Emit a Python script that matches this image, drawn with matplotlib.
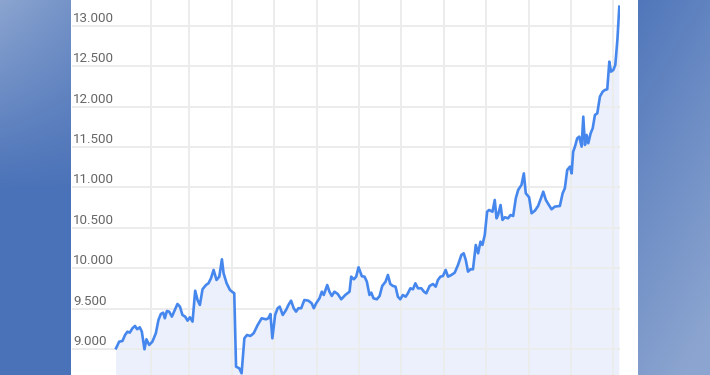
import numpy as np
import pandas as pd
import matplotlib
matplotlib.use("Agg")
import matplotlib.pyplot as plt
import matplotlib.transforms as mtransforms

plt.rcParams["font.family"] = ["Roboto", "DejaVu Sans"]

# index level (days counted from the first point)
start = pd.Timestamp("2023-01-07")
days = [
    0.0, 2.2, 4.6, 6.5, 8.2, 9.9, 11.8, 13.7, 15.2, 17.1, 18.6, 20.5, 21.9, 23.9,
    26.2, 28.7, 30.6, 32.3, 34.0, 35.2, 36.7, 38.3, 40.3, 42.2, 44.3, 46.1, 47.9,
    49.9, 51.6, 53.3, 55.2, 57.1, 58.8, 60.5, 62.4, 64.9, 66.7, 68.5, 70.4, 72.5,
    74.5, 76.4, 77.6, 79.8, 82.2, 84.6, 85.3, 86.6, 88.9, 90.6, 92.6, 94.5, 96.9,
    99.3, 102.2, 105.1, 108.2, 109.9, 111.4, 112.8, 114.8, 116.6, 118.1, 120.3,
    122.7, 124.4, 126.3, 128.2, 129.9, 131.6, 133.6, 135.9, 138.8, 141.2, 142.7,
    144.4, 146.8, 148.5, 149.9, 152.4, 154.0, 155.7, 157.6, 160.0, 162.5, 165.4,
    168.5, 169.7, 171.6, 173.3, 175.0, 177.4, 179.3, 181.0, 182.9, 184.2, 185.8,
    188.2, 190.2, 192.1, 194.5, 196.2, 197.9, 199.8, 201.7, 203.4, 205.1, 207.0,
    209.0, 210.6, 212.4, 214.3, 216.0, 217.9, 220.3, 222.2, 223.9, 226.3, 228.7,
    230.7, 232.3, 234.1, 235.9, 237.9, 239.6, 242.0, 244.4, 246.8, 249.2, 250.9,
    252.4, 254.0, 255.8, 257.6, 259.6, 261.3, 263.0, 264.4, 266.1, 267.8, 269.2,
    271.7, 273.3, 274.6, 275.7, 277.5, 278.9, 280.6, 282.9, 284.7, 286.6, 288.5,
    290.2, 292.6, 294.3, 295.7, 298.1, 299.9, 302.3, 304.6, 307.1, 308.3, 310.2,
    311.9, 314.3, 316.7, 320.3, 322.3, 323.9, 325.6, 327.6, 328.8, 329.9, 331.2,
    332.8, 334.3, 336.0, 337.2, 338.4, 339.6, 340.8, 342.5, 344.0, 345.6, 347.3,
    349.2, 351.2, 352.9, 354.5, 356.0, 357.2, 358.9, 360.3, 361.8, 363.2,
]
values = [
    9009, 9090, 9099, 9173, 9214, 9202, 9256, 9285, 9244, 9268, 9214, 8996, 9120, 9050,
    9090, 9194, 9359, 9433, 9449, 9380, 9470, 9462, 9400, 9474, 9557, 9524, 9421,
    9400, 9350, 9392, 9338, 9721, 9606, 9545, 9739, 9792, 9813, 9875, 9978, 9854,
    9895, 10110, 9937, 9813, 9730, 9697, 9690, 8781, 8761, 8699, 9132, 9173, 9161,
    9194, 9297, 9380, 9367, 9380, 9433, 9132, 9421, 9504, 9524, 9421,
    9483, 9545, 9598, 9504, 9462, 9504, 9504, 9606, 9598, 9565, 9504,
    9565, 9627, 9709, 9668, 9792, 9709, 9656, 9709, 9681, 9615, 9668,
    9709, 9895, 9862, 9895, 10011, 9900, 9895, 9833, 9668, 9697, 9627,
    9615, 9656, 9780, 9833, 9916, 9804, 9780, 9771, 9647, 9615, 9668,
    9647, 9689, 9751, 9739, 9813, 9751, 9751, 9709, 9689, 9780, 9804,
    9771, 9854, 9895, 9903, 9978, 9895, 9916, 9944, 10040, 10163, 10184,
    10101, 9957, 9986, 9986, 10287, 10184, 10328, 10287, 10411, 10699, 10720,
    10699, 10844, 10617, 10658, 10782, 10597, 10630, 10617, 10658, 10646, 10865,
    10968, 11030, 11173, 10927, 10877, 10679, 10712, 10770, 10886, 10947, 10844,
    10795, 10729, 10762, 10770, 10927, 10989, 11215, 11257, 11173, 11442, 11504,
    11607, 11628, 11504, 11875, 11525, 11649, 11546, 11669, 11731, 11896, 11916,
    12123, 12185, 12206, 12214, 12556, 12432, 12453, 12515, 12824, 13236,
]
y_ticks = [8500, 9000, 9500, 10000, 10500, 11000, 11500, 12000, 12500, 13000]
month_lines = pd.date_range("2023-02-01", "2024-01-01", freq="MS")

dates = start + pd.to_timedelta(days, unit="D")

fig = plt.figure(figsize=(7.1, 3.75), dpi=100)

# blue gradient side panels with a white card in the middle
W, H = 710, 375
yy, xx = np.mgrid[0:H, 0:W]
t = np.zeros((H, W))
left = xx < 71
right = xx >= 638
t[left] = np.clip(1 - yy[left] / 190.0, 0, 1) * (1 - 0.35 * xx[left] / 71.0)
t[right] = np.clip(0.1 + 0.75 * yy[right] / H + 0.25 * (xx[right] - 638) / 72.0, 0, 1)
dark = np.array([0x4a, 0x72, 0xb8]) / 255
light = np.array([0x8c, 0xa5, 0xd0]) / 255
img = dark[None, None, :] * (1 - t[..., None]) + light[None, None, :] * t[..., None]
img[(xx >= 71) & (xx < 638)] = 1.0

bg = fig.add_axes([0, 0, 1, 1])
bg.imshow(img, extent=(0, W, H, 0), aspect="auto", interpolation="bilinear")
bg.set_axis_off()

# main chart; extends a bit below the picture, as in the cropped screenshot
ax = fig.add_axes([72 / W, -50 / H, (620 - 72) / W, 425 / H])
ax.set_facecolor("none")
ax.set_xlim(start - pd.Timedelta(days=31.8), start + pd.Timedelta(days=363.7))
ax.set_ylim(8059, 13319)

ax.set_xticks(month_lines)
ax.set_yticks(y_ticks)
ax.grid(True, color="#ececec", linewidth=1.4, zorder=0)
ax.tick_params(length=0, labelbottom=False, labelleft=False)
for s in ax.spines.values():
    s.set_visible(False)

ax.fill_between(dates, values, 8059, color="#4a7fe8", alpha=0.11, linewidth=0, zorder=1)
ax.plot(dates, values, color="#4687ee", linewidth=1.9, solid_joinstyle="round", zorder=2)

lab_tr = mtransforms.offset_copy(ax.get_yaxis_transform(), fig=fig, x=1, y=4, units="dots")
for v in y_ticks:
    ax.text(0, v, f"{v:,}".replace(",", "."), transform=lab_tr, ha="left", va="baseline",
            fontsize=9.6, color="#666666", zorder=3)

fig.savefig("out.png", dpi=100)
